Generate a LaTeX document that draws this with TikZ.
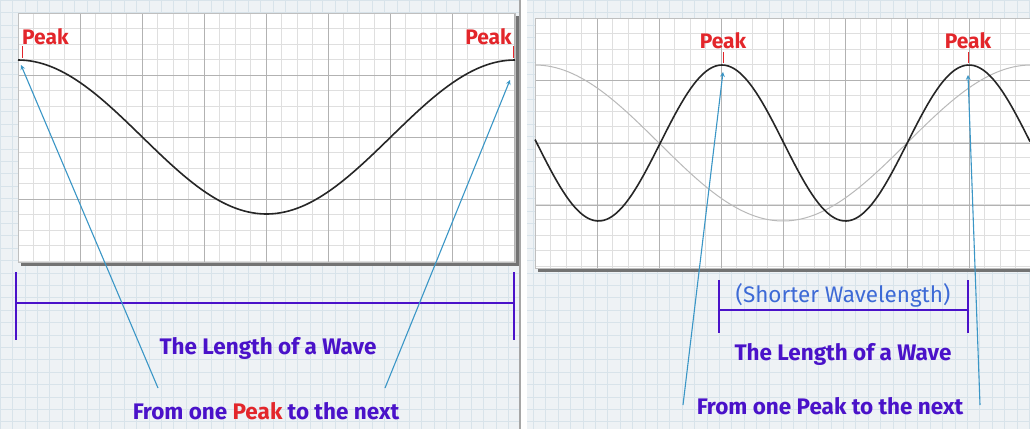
\documentclass[tikz,border=0pt]{standalone}
\usepackage{fontspec}
\setmainfont{Fira Sans}
\usepackage{tikz}

\definecolor{peakred}{HTML}{E3262B}
\definecolor{wavepurple}{HTML}{4A12C9}
\definecolor{arrowblue}{HTML}{3A96C6}
\definecolor{shortblue}{HTML}{3D6AD6}
\definecolor{paper}{HTML}{EEF2F5}
\definecolor{paperline}{HTML}{D8E3EA}

\begin{document}
\begin{tikzpicture}[x=1pt,y=-1pt,>=stealth,
    peak/.style={text=peakred,font=\bfseries\fontsize{21}{21}\selectfont,inner sep=0pt},
    title/.style={text=wavepurple,font=\bfseries\fontsize{22.5}{22.5}\selectfont,inner sep=0pt},
    pointer/.style={->,arrowblue,line width=1.1pt},
    span/.style={wavepurple,line width=1.6pt}]
    \useasboundingbox (0,0) rectangle (1030,429);

    % Papel de fondo.
    \fill[paper] (0,0) rectangle (1030,429);
    \foreach \x in {0,12.4,...,1030}{
        \draw[paperline,line width=0.4pt] (\x,0) -- (\x,429);
    }
    \foreach \y in {0,12.4,...,429}{
        \draw[paperline,line width=0.4pt] (0,\y) -- (1030,\y);
    }
    \fill[white] (519,0) rectangle (527,429);
    \draw[gray!70,line width=1.5pt] (520,0) -- (520,429);

    % Recuadros con cuadricula.
    \fill[black!55] (21,16) rectangle (519,266);
    \fill[black!55] (538,21) rectangle (1040,272);
    \fill[white] (18,13) rectangle (515,262);
    \fill[white] (535,18) rectangle (1040,268);
    \foreach \x in {33.5,49,...,515}{
        \draw[gray!25] (\x,13) -- (\x,262);
    }
    \foreach \y in {28.5,44,...,262}{
        \draw[gray!25] (18,\y) -- (515,\y);
    }
    \foreach \x in {80,142,...,515}{
        \draw[gray!60] (\x,13) -- (\x,262);
    }
    \foreach \y in {75,137,199}{
        \draw[gray!60] (18,\y) -- (515,\y);
    }
    \foreach \x in {550.5,566,...,1040}{
        \draw[gray!25] (\x,18) -- (\x,268);
    }
    \foreach \y in {33.5,49,...,268}{
        \draw[gray!25] (535,\y) -- (1040,\y);
    }
    \foreach \x in {597,659,...,1040}{
        \draw[gray!60] (\x,18) -- (\x,268);
    }
    \foreach \y in {80,143,205}{
        \draw[gray!60] (535,\y) -- (1040,\y);
    }
    \draw[gray!50] (18,13) rectangle (515,262);
    \draw[gray!50] (535,18) -- (1040,18) (535,18) -- (535,268) -- (1040,268);

    % Ondas.
    \draw[black!85,line width=1.6pt] plot[domain=18:515,samples=120]
        (\x,{137-77*cos(0.72435*(\x-18))});
    \draw[gray!55,line width=1pt] plot[domain=535:1030,samples=120]
        (\x,{143-78*cos(0.72581*(\x-535))});
    \draw[black!85,line width=1.6pt] plot[domain=535:1030,samples=160]
        (\x,{143-78*cos(1.45749*(\x-722))});

    % Picos.
    \node[peak,anchor=base west] (peakA) at (22,44) {Peak};
    \node[peak,anchor=base east] (peakB) at (512,44) {Peak};
    \node[peak,anchor=base] (peakC) at (723,48) {Peak};
    \node[peak,anchor=base] (peakD) at (968,48) {Peak};
    \draw[peakred,thick] (22,46) -- (22,58);
    \draw[peakred,thick] (513,46) -- (513,58);
    \draw[peakred,thick] (723,52) -- (723,63);
    \draw[peakred,thick] (968,52) -- (968,63);

    \coordinate (crestA) at (21,65);
    \coordinate (crestB) at (510,80);
    \coordinate (crestC) at (723,72);
    \coordinate (crestD) at (968,75);

    % Longitud de onda.
    \coordinate (spanA) at (16,303);
    \coordinate (spanB) at (514,303);
    \coordinate (spanC) at (719,310);
    \coordinate (spanD) at (968,310);
    \draw[span] (spanA) -- (spanB);
    \draw[span] (spanA) ++(0,-31) -- ++(0,68);
    \draw[span] (spanB) ++(0,-31) -- ++(0,68);
    \draw[span] (spanC) -- (spanD);
    \draw[span] (spanC) ++(0,-30) -- ++(0,53);
    \draw[span] (spanD) ++(0,-30) -- ++(0,53);

    \node[text=shortblue,inner sep=0pt,font=\fontsize{22.5}{22.5}\selectfont]
        (shorter) at (843,295) {(Shorter Wavelength)};
    \node[title] (lengthA) at (268,348) {The Length of a Wave};
    \node[title] (lengthB) at (843,354) {The Length of a Wave};
    \node[title] (nextA) at (266,411)
        {From one \textcolor{peakred}{Peak} to the next};
    \node[title] (nextB) at (830,406) {From one Peak to the next};

    % Flechas hacia los picos.
    \coordinate (tailA) at (158,388);
    \coordinate (tailB) at (385,388);
    \coordinate (tailC) at (683,405);
    \coordinate (tailD) at (980,405);
    \draw[pointer] (tailA) -- (crestA);
    \draw[pointer] (tailB) -- (crestB);
    \draw[pointer] (tailC) -- (crestC);
    \draw[pointer] (tailD) -- (crestD);
\end{tikzpicture}
\end{document}
